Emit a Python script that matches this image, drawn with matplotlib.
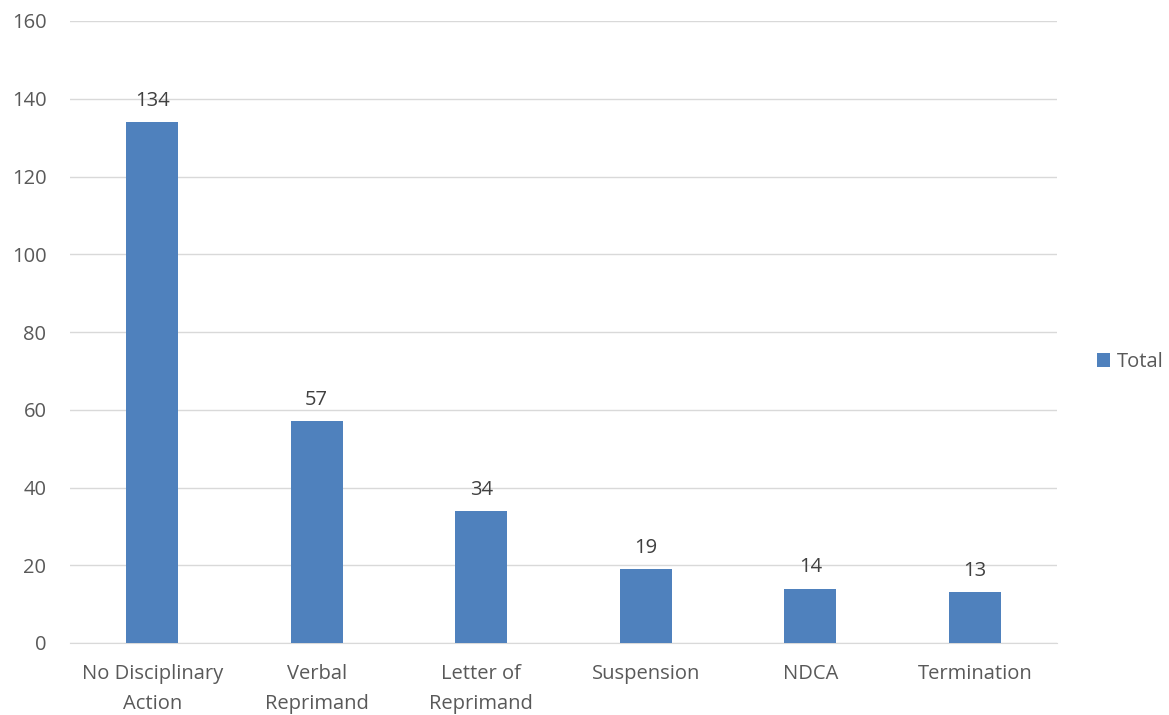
import matplotlib
matplotlib.use("Agg")
import matplotlib.pyplot as plt

categories = ["No Disciplinary\nAction", "Verbal\nReprimand", "Letter of\nReprimand",
              "Suspension", "NDCA", "Termination"]
values = [134, 57, 34, 19, 14, 13]
yticks = [0, 20, 40, 60, 80, 100, 120, 140, 160]

plt.rcParams['font.family'] = ['Open Sans', 'DejaVu Sans']
txt = '#595959'
fs = 14.5

fig = plt.figure(figsize=(11.69, 7.15), dpi=100)
ax = fig.add_axes([70/1169, 1 - 643/715, (1057-70)/1169, (643-21)/715])

x = list(range(len(categories)))
bars = ax.bar(x, values, width=0.316, color='#4f81bd', label='Total', zorder=3)
for xi, v in zip(x, values):
    ax.annotate(str(v), (xi, v), xytext=(0, 8), textcoords='offset points',
                ha='center', va='bottom', fontsize=fs, color='#404040')

ax.set_xlim(-0.5, len(categories) - 0.5)
ax.set_ylim(0, 160)
ax.set_yticks(yticks)
ax.set_yticklabels([str(t) for t in yticks], fontsize=fs, color=txt)
ax.set_xticks(x)
ax.set_xticklabels(categories, fontsize=fs, color=txt, linespacing=1.7)
ax.tick_params(axis='x', length=0, pad=15)
ax.tick_params(axis='y', length=0, pad=17)
ax.grid(axis='y', color='#d9d9d9', linewidth=1, zorder=0)
for s in ['top', 'right', 'left']:
    ax.spines[s].set_visible(False)
ax.spines['bottom'].set_color('#d9d9d9')

leg = fig.legend(handles=[bars], labels=['Total'], loc='center left',
                 bbox_to_anchor=(1097/1169, 1 - 362/715), frameon=False,
                 borderaxespad=0, borderpad=0,
                 fontsize=fs, handlelength=0.65, handleheight=0.65, handletextpad=0.35)
for t in leg.get_texts():
    t.set_color(txt)

fig.savefig('out.png', dpi=100)
